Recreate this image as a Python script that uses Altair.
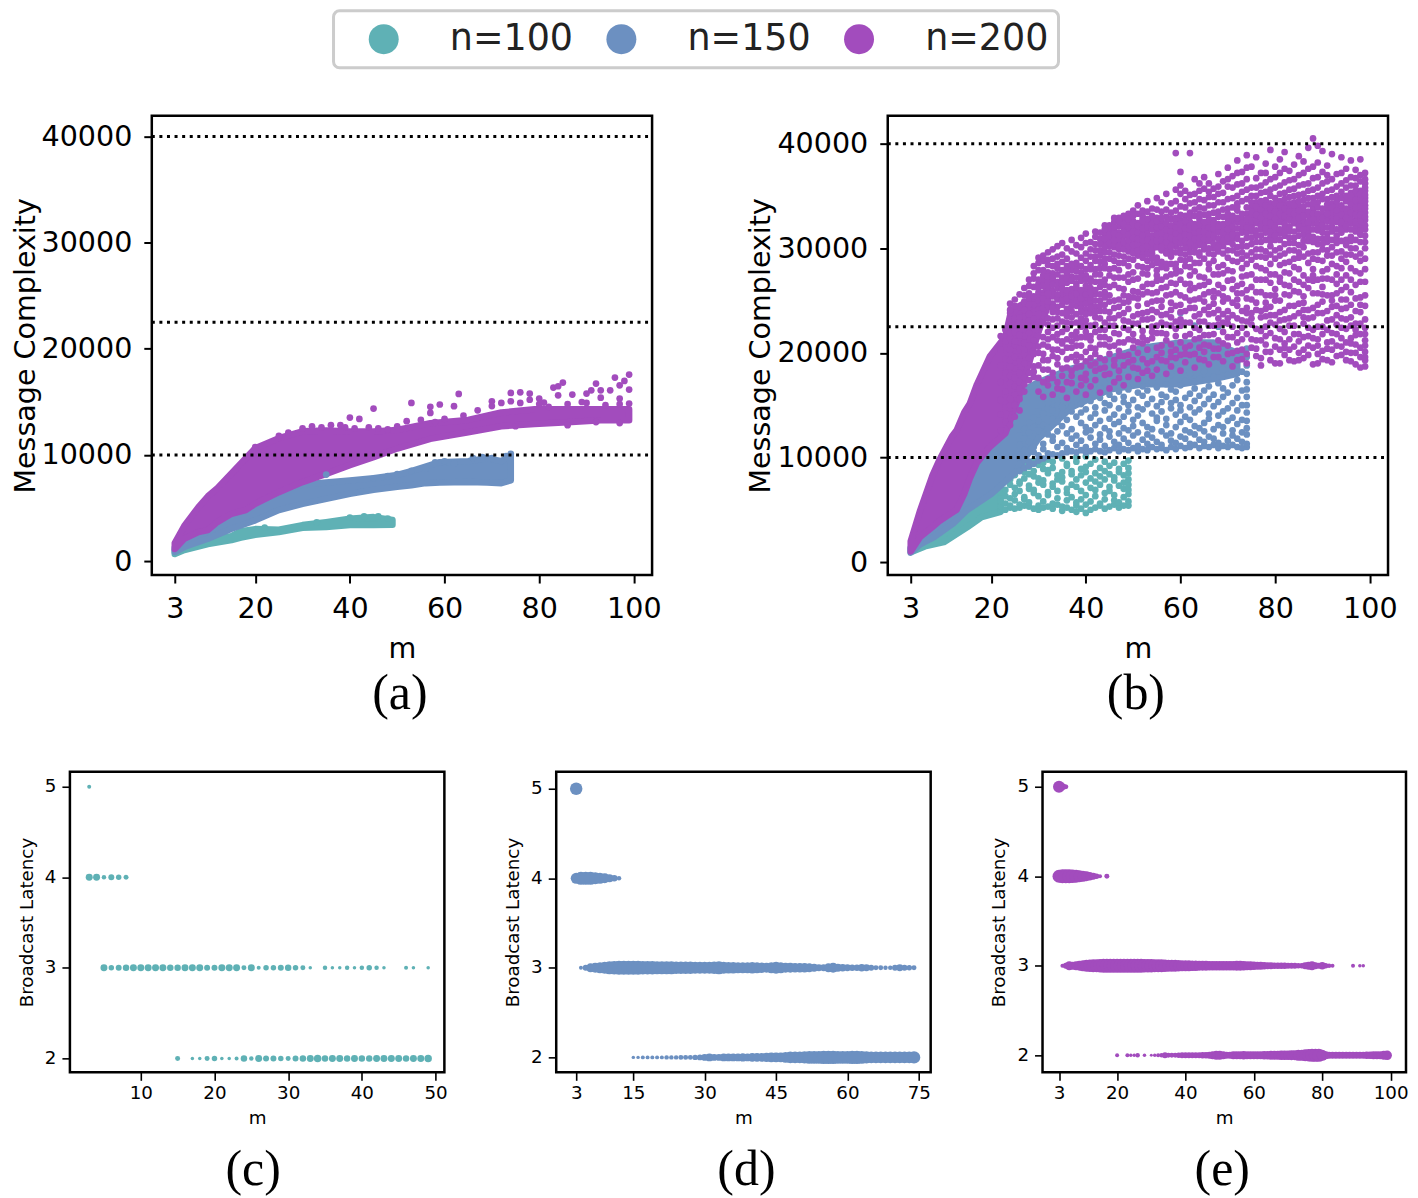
import altair as alt
import pandas as pd

TEAL, BLUE, PURPLE = "#5FB1B5", "#6C90C1", "#A24CBD"
SERIES = ["n=100", "n=150", "n=200"]
HLINES = [10000, 22500, 40000]
FONT = "DejaVu Sans"
SERIF = "Liberation Serif"

A100_M = [3, 5, 10, 15, 17, 20, 25, 30, 35, 40, 45, 49]
A100_LO = [660, 1035, 1600, 1980, 2200, 2480, 2730, 3130, 3200, 3390, 3390, 3420]
A100_HI = [1060, 1500, 2000, 2350, 2820, 3010, 2950, 3390, 3670, 3980, 4140, 3860]
A150_M = [3, 5, 10, 15, 20, 25, 30, 35, 40, 45, 50, 53, 56, 59, 65, 69, 72, 74]
A150_LO = [850, 1320, 2100, 3040, 3830, 4800, 5390, 5860, 6330, 6710, 7000, 7150, 7340, 7400, 7440, 7400, 7340, 7600]
A150_HI = [1300, 2000, 3500, 4800, 5800, 6700, 7200, 7400, 7600, 7810, 8120, 8470, 8910, 9320, 9410, 9690, 9410, 9910]
A200_M = [3, 5, 8, 10, 12, 15, 18, 20, 25, 30, 35, 40, 45, 50, 57, 65, 72, 79, 86, 93, 99]
A200_LO = [1130, 2100, 2730, 2920, 3670, 4450, 4800, 5390, 6490, 7440, 8220, 9040, 9790, 10600, 11510, 12140, 12700, 12920, 13080, 13270, 13270]
A200_HI = [1700, 3300, 5080, 6100, 6870, 8280, 9690, 10630, 11580, 12230, 12300, 12200, 12200, 12360, 12990, 13300, 14000, 14300, 14300, 14300, 14300]
AOUT_M = [40, 42, 45, 53, 52, 57, 57, 59, 62, 63, 70, 74, 74, 76, 78, 80, 81, 82, 83, 84, 84, 85,
          87, 89, 90, 91, 92, 93, 93, 95, 96, 97, 97, 98, 99, 99, 99,
          20, 25, 27, 30, 32, 34, 36, 38, 39, 41, 44, 46, 48, 50, 55, 58, 60, 64, 67, 70, 72, 76, 78, 80, 86, 90, 94, 97, 75, 86, 92, 97]
AOUT_V = [13520, 13390, 14370, 14900, 13180, 14530, 13960, 14750, 14590, 15750, 15060, 15840, 15060,
          15900, 15780, 15310, 14930, 14530, 16350, 16470, 15620, 16820, 15690, 14990, 15780, 16090,
          16720, 16090, 15400, 16090, 17290, 16560, 15310, 16970, 17570, 16160, 14840,
          10730, 11800, 12100, 12500, 12700, 12600, 12800, 12800, 12600, 12500, 12600, 12500, 12400, 12700,
          13300, 13100, 13400, 13700, 14200, 14600, 14900, 14900, 15200, 14800, 14800, 14900, 14700, 14800,
          12700, 12800, 13100, 13000]
BLUE_OUT_M = [35, 45, 48, 50, 53, 56, 58, 60, 62, 66, 68, 70, 73, 74]
BLUE_OUT_V = [8150, 7800, 8000, 8200, 8500, 8700, 9300, 9400, 9200, 9700, 9800, 9700, 9900, 10100]
TEAL_OUT_M = [22, 33, 40, 43, 46, 48]
TEAL_OUT_V = [3150, 3650, 4100, 4200, 4200, 4000]

B100_CORE_M = [3, 6, 10, 15, 18, 22]
B100_CORE_LO = [950, 1500, 1900, 3350, 4300, 4800]
B100_CORE_HI = [1300, 2200, 3500, 5500, 6800, 7600]
B100_COLS = {
    22: [49, 53, 58, 67, 72, 81], 23: [50, 56, 63, 69, 78, 84], 24: [52, 54, 61, 74, 79, 88],
    25: [51, 59, 65, 71, 83, 90], 26: [52, 55, 68, 75, 77, 92], 27: [54, 60, 62, 80, 86, 94],
    28: [53, 57, 70, 73, 84, 91], 29: [51, 66, 69, 82, 87, 97], 30: [50, 54, 63, 76, 80, 93],
    31: [52, 58, 74, 78, 89, 95], 32: [53, 64, 67, 85, 88, 98], 33: [51, 56, 72, 75, 90, 96],
    34: [55, 61, 68, 79, 83], 35: [49, 53, 77, 81, 86, 99], 36: [52, 59, 66, 70, 92, 94],
    37: [50, 62, 74, 84, 87], 38: [48, 54, 57, 72, 79, 96, 100], 39: [51, 60, 68, 83, 89],
    40: [47, 55, 64, 76, 86, 91, 101], 41: [50, 58, 71, 80, 94], 42: [52, 63, 69, 77, 85, 98],
    43: [54, 56, 74, 82, 90], 44: [51, 60, 66, 79, 87, 96], 45: [53, 68, 72, 84, 92],
    46: [55, 59, 64, 78, 81, 95], 47: [52, 57, 73, 86, 89], 48: [54, 62, 70, 76, 83, 94],
    49: [54, 58, 65, 69, 74, 79, 85, 90, 97],
}
B150_CORE_M = [3, 5, 8, 12, 15, 20, 25, 30, 37, 45, 52, 60, 67, 72]
B150_CORE_LO = [900, 1700, 2400, 3700, 5000, 6500, 8500, 11800, 14800, 16500, 17000, 17000, 17500, 18000]
B150_CORE_HI = [1400, 2500, 4000, 6000, 9500, 13000, 16000, 17200, 18500, 19500, 20500, 21000, 21000, 20000]
B150_COLS = {
    26: [87, 94, 103, 112, 121], 27: [90, 98, 107, 118, 127], 28: [92, 96, 115, 124, 133],
    29: [94, 105, 110, 129, 138], 30: [97, 102, 119, 126, 135, 144], 31: [99, 108, 113, 131, 142],
    32: [101, 104, 122, 128, 147, 152], 33: [103, 116, 120, 137, 145], 34: [102, 110, 125, 134, 150, 155],
    35: [104, 114, 130, 141, 148, 158], 36: [105, 109, 123, 136, 153, 160], 37: [106, 118, 127, 144, 149],
    38: [105, 112, 121, 139, 156, 163], 39: [107, 116, 133, 143, 151, 168], 40: [105, 110, 124, 129, 146, 159, 165],
    41: [106, 119, 126, 138, 154, 170], 42: [108, 113, 131, 142, 148, 162], 43: [106, 117, 122, 135, 157, 166],
    44: [105, 111, 128, 145, 152, 172], 45: [107, 120, 125, 137, 150, 160, 176], 46: [109, 115, 132, 141, 156, 168],
    47: [106, 112, 123, 134, 147, 163, 174], 48: [108, 118, 128, 139, 153, 158, 178], 49: [107, 114, 126, 144, 150, 165],
    50: [109, 121, 130, 136, 155, 171, 180], 51: [106, 111, 124, 140, 148, 162, 175], 52: [108, 117, 133, 146, 159, 168],
    53: [107, 113, 122, 129, 151, 164, 181], 54: [110, 119, 127, 142, 156, 172], 55: [108, 115, 135, 138, 149, 167, 177],
    56: [109, 112, 125, 144, 153, 160, 183], 57: [107, 121, 131, 137, 158, 170], 58: [110, 116, 123, 147, 152, 165, 179],
    59: [108, 114, 129, 141, 155, 163, 185], 60: [111, 120, 134, 145, 150, 169, 230, 238], 61: [109, 118, 126, 139, 157, 173],
    62: [110, 113, 124, 136, 148, 161, 180], 63: [112, 122, 130, 143, 154, 166, 226], 64: [109, 117, 128, 146, 159, 175],
    65: [111, 115, 125, 133, 151, 164, 182], 66: [110, 120, 137, 142, 156, 168, 226], 67: [112, 118, 127, 149, 160, 177],
    68: [109, 114, 131, 140, 153, 171, 225], 69: [111, 123, 129, 144, 158, 166, 184], 70: [110, 116, 135, 147, 162, 179],
    71: [112, 121, 126, 138, 152, 169, 186], 72: [110, 118, 132, 145, 157, 174, 192], 73: [109, 115, 124, 136, 150, 164, 182, 198],
    74: [110, 113, 122, 128, 135, 143, 150, 158, 165, 172, 180, 188, 196, 204],
}
B200_CORE_M = [3, 5, 7.6, 9, 11.7, 12.7, 14.3, 15.5, 17, 19.7, 23, 24, 26, 28, 30, 32]
B200_CORE_LO = [1000, 2400, 3350, 3900, 4700, 5000, 6500, 8000, 9500, 11000, 12300, 13500, 16000, 19000, 22000, 24500]
B200_CORE_HI = [1990, 4950, 8290, 9700, 12000, 12600, 14300, 15170, 17000, 19650, 21560, 23570, 24500, 25000, 25500, 26000]
B200_COLS = {
    22: [126, 141, 155, 172, 188, 203, 216], 23: [134, 148, 163, 181, 194, 211, 222],
    24: [131, 147, 150, 171, 178, 193, 214, 219, 238, 247], 25: [139, 160, 168, 185, 207, 211, 226, 233, 251],
    26: [145, 166, 172, 196, 204, 222, 229, 244, 256], 27: [170, 177, 199, 210, 216, 235, 241, 249, 262],
    28: [174, 191, 195, 219, 226, 231, 252, 257, 270], 29: [177, 182, 208, 212, 233, 239, 246, 263, 271, 283],
    30: [163, 188, 200, 221, 229, 241, 250, 258, 266, 279, 291], 31: [158, 184, 193, 215, 236, 243, 248, 255, 269, 274, 288],
    32: [169, 175, 206, 213, 227, 245, 252, 260, 263, 277, 284, 296], 33: [160, 181, 197, 224, 232, 247, 254, 259, 270, 276, 290, 299],
    34: [172, 189, 203, 218, 239, 244, 251, 262, 268, 281, 285, 302], 35: [165, 178, 209, 211, 230, 246, 253, 257, 265, 272, 294, 305],
    36: [157, 186, 194, 223, 235, 242, 249, 256, 267, 275, 283, 300], 37: [171, 183, 205, 217, 228, 240, 250, 258, 261, 273, 279, 297, 308],
    38: [163, 192, 198, 214, 237, 245, 254, 260, 266, 282, 286, 303], 39: [176, 187, 207, 225, 233, 243, 248, 255, 269, 277, 291, 310],
    40: [160, 180, 201, 220, 231, 241, 252, 259, 264, 274, 288, 295, 314], 41: [168, 195, 212, 216, 238, 247, 253, 262, 271, 284, 299, 306],
    42: [174, 190, 204, 227, 234, 244, 256, 268, 280, 292, 304, 316], 43: [162, 185, 208, 222, 240, 250, 263, 275, 287, 298, 309],
    44: [179, 193, 215, 229, 246, 258, 270, 285, 296, 305, 313, 322], 45: [166, 199, 206, 233, 239, 255, 274, 290, 302, 308, 318],
    46: [172, 188, 219, 226, 243, 265, 281, 294, 301, 311, 317, 325], 47: [183, 202, 210, 236, 251, 272, 279, 299, 304, 309, 315, 321, 329],
    48: [169, 197, 224, 231, 248, 261, 286, 292, 303, 312, 320, 327], 49: [177, 191, 213, 242, 254, 268, 283, 297, 305, 310, 316, 323, 333],
    50: [186, 205, 218, 235, 259, 277, 289, 300, 307, 314, 319, 326, 336], 51: [175, 200, 228, 245, 252, 271, 293, 302, 306, 311, 318, 324, 341],
    52: [181, 209, 221, 238, 263, 282, 296, 303, 309, 315, 322, 328, 331], 53: [190, 203, 232, 247, 266, 275, 288, 299, 305, 313, 317, 325, 345],
    54: [178, 214, 225, 241, 257, 284, 295, 301, 308, 312, 320, 327, 338], 55: [184, 196, 219, 250, 269, 279, 291, 304, 310, 316, 323, 329, 348],
    56: [193, 207, 236, 244, 262, 287, 298, 306, 311, 318, 326, 335], 57: [180, 212, 227, 255, 273, 281, 300, 303, 309, 314, 321, 330, 352],
    58: [187, 201, 234, 248, 267, 292, 297, 307, 313, 319, 328, 343], 59: [195, 216, 223, 258, 276, 285, 302, 305, 312, 317, 324, 336, 356, 391],
    60: [183, 210, 239, 246, 270, 289, 299, 308, 315, 320, 327, 340, 360, 373], 61: [191, 205, 229, 253, 283, 294, 304, 310, 316, 322, 331, 347],
    62: [198, 218, 243, 260, 274, 290, 301, 309, 314, 325, 334, 351, 391], 63: [186, 213, 235, 251, 278, 296, 306, 311, 318, 323, 337, 344, 366],
    64: [194, 222, 230, 264, 286, 293, 303, 313, 319, 328, 339, 355], 65: [201, 208, 241, 256, 272, 299, 305, 312, 321, 332, 346, 368],
    66: [189, 217, 237, 268, 280, 295, 307, 316, 324, 333, 349, 362], 67: [196, 226, 247, 259, 288, 300, 310, 314, 327, 341, 357],
    68: [204, 212, 233, 265, 275, 297, 304, 318, 323, 335, 352, 371], 69: [192, 220, 249, 254, 284, 302, 311, 320, 330, 344, 364],
    70: [199, 228, 240, 269, 291, 306, 315, 322, 329, 338, 359, 377], 71: [187, 215, 236, 261, 278, 298, 309, 317, 326, 348, 369],
    72: [202, 210, 245, 257, 287, 301, 313, 325, 336, 343, 361, 384], 73: [194, 224, 231, 266, 281, 296, 307, 319, 328, 354, 373],
    74: [190, 218, 243, 252, 274, 293, 310, 323, 333, 347, 366, 389], 75: [205, 227, 238, 263, 289, 304, 316, 321, 331, 339, 350, 378],
    76: [197, 212, 248, 258, 283, 299, 312, 324, 328, 336, 344, 358, 387], 77: [188, 221, 234, 270, 292, 306, 318, 325, 334, 341, 353, 372],
    78: [201, 216, 242, 255, 279, 297, 315, 322, 329, 337, 346, 363, 381], 79: [193, 229, 236, 267, 285, 302, 311, 320, 327, 335, 343, 356, 394],
    80: [206, 214, 250, 261, 290, 308, 317, 323, 331, 339, 348, 368], 81: [190, 223, 239, 272, 284, 300, 314, 326, 330, 336, 345, 360, 385],
    82: [198, 209, 232, 256, 277, 295, 312, 319, 328, 334, 342, 353, 376, 392], 83: [203, 226, 245, 264, 287, 305, 316, 321, 332, 338, 349, 365],
    84: [192, 218, 235, 259, 282, 298, 310, 324, 329, 337, 344, 357, 380], 85: [200, 211, 247, 268, 291, 303, 318, 325, 333, 340, 351, 370, 388],
    86: [195, 228, 241, 254, 274, 301, 313, 322, 327, 335, 346, 361, 383], 87: [207, 216, 233, 262, 286, 307, 315, 320, 331, 342, 355, 376, 396],
    88: [189, 222, 243, 269, 280, 296, 311, 324, 336, 339, 348, 367, 405], 89: [199, 213, 238, 257, 289, 304, 317, 323, 329, 344, 358, 382, 398],
    90: [194, 225, 249, 263, 278, 299, 309, 319, 326, 333, 352, 373, 393], 91: [204, 210, 231, 271, 293, 306, 314, 328, 338, 347, 364, 379],
    92: [191, 219, 244, 255, 285, 301, 316, 321, 330, 335, 343, 356, 390], 93: [197, 227, 236, 266, 283, 305, 312, 325, 332, 341, 350, 371],
    94: [206, 214, 242, 260, 290, 297, 315, 322, 329, 336, 354, 362, 387], 95: [193, 223, 251, 274, 287, 303, 318, 326, 333, 345, 358, 376],
    96: [200, 209, 234, 258, 281, 300, 311, 324, 331, 338, 347, 353, 368, 384], 97: [189, 217, 228, 265, 292, 308, 320, 327, 335, 342, 350, 360, 375],
    98: [196, 205, 239, 253, 276, 295, 313, 322, 329, 337, 343, 355, 364, 385], 99: [187, 193, 201, 212, 224, 245, 268, 290, 306, 318, 327, 334, 341, 348, 355, 362, 372],
}
# second pass over the densest parts of the purple cloud (hundreds)
B200_DENSE = {
    24: [156, 187, 203, 226, 241], 25: [150, 176, 196, 220, 245], 26: [156, 181, 192, 217, 234],
    27: [163, 190, 203, 226, 255], 28: [181, 207, 237, 246, 264], 29: [187, 199, 226, 254, 276],
    30: [176, 206, 216, 237, 262, 270, 286], 31: [172, 199, 208, 229, 252, 264, 279, 293],
    32: [184, 193, 220, 233, 249, 257, 268, 273, 289], 33: [176, 203, 215, 239, 243, 265, 272, 283],
    34: [166, 195, 212, 226, 233, 256, 275, 292], 35: [185, 201, 220, 238, 250, 261, 268, 279, 287],
    36: [172, 205, 213, 229, 238, 252, 260, 271, 279, 290], 37: [178, 196, 211, 234, 245, 254, 269, 285],
    38: [186, 207, 220, 229, 250, 257, 263, 272, 278, 295], 39: [169, 196, 215, 229, 239, 252, 260, 273, 283, 301],
    40: [174, 192, 215, 226, 237, 247, 256, 270, 280, 305], 41: [188, 205, 226, 243, 250, 258, 268, 280, 292],
    42: [183, 199, 220, 239, 250, 260, 275, 288, 298, 311], 43: [195, 215, 233, 245, 256, 268, 281, 293, 304, 315],
    44: [186, 208, 222, 240, 253, 265, 281, 290, 301, 309, 318], 45: [180, 213, 226, 249, 263, 280, 296, 305, 313, 322],
    46: [193, 207, 233, 250, 272, 288, 304, 308, 314, 320, 329], 47: [176, 197, 218, 244, 262, 286, 293, 302, 312, 326],
    48: [188, 210, 238, 255, 272, 299, 306, 316, 323, 331], 49: [198, 222, 230, 249, 275, 290, 302, 308, 313, 320, 328],
    50: [193, 212, 228, 253, 270, 295, 303, 310, 316, 324, 331], 51: [185, 210, 237, 258, 283, 298, 304, 309, 315, 322, 333],
    52: [194, 215, 232, 256, 276, 291, 300, 308, 312, 319, 326, 336], 53: [183, 212, 239, 258, 281, 294, 302, 308, 320, 328, 335],
    54: [192, 220, 233, 249, 266, 290, 298, 305, 318, 323, 331], 55: [205, 226, 239, 258, 274, 286, 301, 307, 313, 320, 326, 337],
    56: [200, 219, 229, 250, 270, 282, 301, 308, 314, 321, 329, 344], 57: [192, 218, 237, 263, 285, 295, 306, 311, 318, 324, 337],
    58: [196, 208, 226, 241, 256, 275, 285, 302, 310, 316, 322, 334], 59: [203, 230, 245, 266, 281, 296, 308, 314, 320, 329, 345],
    60: [198, 226, 232, 255, 278, 295, 305, 311, 318, 323, 332, 352], 61: [199, 216, 240, 266, 288, 300, 307, 313, 319, 326, 339, 355],
    62: [207, 229, 250, 266, 282, 296, 305, 312, 318, 322, 330, 343], 63: [199, 224, 243, 262, 286, 301, 309, 315, 320, 331, 352],
    64: [205, 214, 237, 252, 273, 296, 306, 310, 316, 324, 333, 347, 362], 65: [193, 217, 230, 249, 265, 290, 302, 309, 316, 325, 338, 357],
    66: [207, 226, 244, 258, 285, 300, 309, 313, 320, 328, 341, 354], 67: [204, 218, 238, 253, 275, 294, 304, 312, 319, 324, 334, 349],
    68: [196, 227, 241, 257, 282, 301, 309, 315, 321, 330, 344, 359], 69: [209, 229, 237, 262, 276, 295, 307, 315, 323, 337, 353],
    70: [207, 215, 233, 252, 279, 298, 310, 318, 325, 333, 347, 366], 71: [200, 225, 248, 270, 288, 304, 313, 321, 331, 339, 358],
    72: [193, 219, 233, 251, 264, 295, 309, 319, 329, 340, 350, 372], 73: [203, 213, 240, 257, 273, 290, 302, 315, 324, 333, 345, 362],
    74: [199, 230, 238, 260, 285, 302, 315, 320, 328, 339, 356, 377], 75: [213, 233, 251, 275, 296, 310, 319, 326, 335, 344, 358],
    76: [204, 223, 241, 270, 292, 306, 317, 327, 332, 340, 350, 367], 77: [195, 212, 240, 258, 281, 299, 312, 321, 329, 337, 345, 360],
    78: [208, 225, 235, 248, 270, 291, 308, 319, 325, 333, 341, 354, 372], 79: [201, 219, 244, 255, 275, 294, 307, 316, 324, 331, 339, 350, 366],
    80: [190, 227, 236, 255, 275, 298, 312, 320, 328, 335, 343, 358, 378], 81: [203, 213, 231, 250, 268, 293, 308, 318, 325, 333, 341, 352, 372],
    82: [205, 220, 241, 265, 286, 304, 315, 323, 331, 338, 347, 363], 83: [193, 213, 233, 255, 276, 298, 310, 319, 327, 335, 343, 356, 374],
    84: [206, 226, 245, 270, 290, 305, 316, 326, 333, 341, 350, 366], 85: [193, 218, 238, 258, 280, 296, 312, 321, 329, 336, 345, 360],
    86: [203, 215, 234, 248, 265, 292, 307, 318, 331, 340, 352, 372], 87: [198, 224, 241, 270, 295, 311, 325, 335, 348, 362],
    88: [205, 214, 234, 257, 274, 290, 306, 318, 328, 333, 343, 356, 378], 89: [190, 207, 225, 246, 270, 296, 309, 319, 333, 339, 350, 368],
    90: [202, 218, 238, 256, 271, 288, 304, 315, 322, 329, 338, 347, 362], 91: [193, 222, 240, 255, 280, 298, 310, 320, 326, 333, 342, 355, 370],
    92: [203, 211, 232, 250, 270, 293, 308, 317, 325, 339, 349, 366], 93: [207, 218, 245, 257, 275, 296, 308, 318, 328, 336, 345, 359],
    94: [198, 224, 233, 251, 270, 281, 307, 318, 325, 332, 341, 348, 372], 95: [201, 210, 232, 243, 263, 294, 308, 321, 329, 338, 350, 365],
    96: [192, 214, 226, 246, 270, 294, 307, 318, 327, 334, 342, 350, 360], 97: [200, 208, 222, 240, 252, 278, 300, 316, 325, 332, 339, 346, 355, 367],
    98: [186, 218, 228, 246, 268, 288, 306, 317, 326, 332, 340, 347, 352, 370], 99: [196, 207, 218, 232, 255, 280, 300, 312, 322, 330, 338, 345, 351, 358, 366],
}

C_ROWS = {
    5: ([3], [4]),
    4: ([3, 4, 5, 6, 7, 8], [7, 7, 4.5, 6, 5.5, 5]),
    3: ([5, 6, 7, 8, 9, 10, 11, 12, 13, 14, 15, 16, 17, 18, 19, 20, 21, 22, 23, 24, 25, 26, 27, 28, 29, 30, 31, 32, 33, 35, 36, 37, 38, 39, 40, 41, 42, 43, 46, 47, 49],
        [7, 5.5, 6, 6.5, 7, 7, 7, 7, 7, 6.5, 6.5, 7, 7, 7, 6, 6, 7, 7, 7, 5, 7, 4, 5.5, 5.5, 6, 6.5, 5.5, 5, 3.5, 4.5, 3.5, 3.5, 4.5, 3.5, 4.5, 5.5, 4.5, 3.5, 4, 3.5, 3.5]),
    2: ([15, 17, 18, 19, 20, 21, 22, 23, 24, 25, 26, 27, 28, 29, 30, 31, 32, 33, 34, 35, 36, 37, 38, 39, 40, 41, 42, 43, 44, 45, 46, 47, 48, 49],
        [5, 3.5, 3.5, 5, 5.5, 3.5, 3.5, 4, 6.5, 4.5, 7, 6, 6, 5.5, 5, 6, 6.5, 7, 7.5, 6.5, 7, 7, 6.5, 7, 6.5, 6.5, 7, 7, 7, 7, 6.5, 7, 7, 7.5]),
}
D_ROWS = {
    5: ([3], [12.5]),
    4: ([3, 4, 5, 6, 7, 8, 9, 10, 11, 12], [11, 13, 13, 13, 12, 11, 10, 8, 6.5, 4.5]),
    3: (list(range(4, 75)),
        [4, 6, 9, 10, 11, 12, 13, 13.5, 14, 14, 14, 14, 14, 13.5, 13.5, 13.5, 13, 13, 13, 13, 12.5, 12.5, 12.5, 12.5, 12, 12, 12, 12, 12.5, 13, 12, 11.5, 11.5, 11, 11, 11, 11.5, 11, 10.5, 10, 11, 12, 11, 10, 10, 9.5, 9.5, 9.5, 9, 8, 7, 7, 9, 10, 8, 7.5, 7, 6.5, 6.5, 7.5, 7, 6, 5, 5, 4.5, 4.5, 6, 7, 6, 5.5, 5]),
    2: (list(range(15, 75)),
        [3.5, 3.5, 4, 4, 4, 4, 4, 4.5, 4.5, 4.5, 5, 5, 5, 5.5, 6, 7, 8, 7, 7, 8, 8, 8, 8, 8.5, 8, 9, 9, 9, 9.5, 10, 10, 10, 11, 12, 12, 12, 12.5, 13, 13, 13, 13.5, 13.5, 13.5, 13, 13, 13, 13.5, 13.5, 13, 12.5, 12, 12, 12, 12, 12, 12, 12, 12, 12, 12.5]),
}
E_ROWS = {
    5: ([3, 4, 5], [12, 7, 5]),
    4: ([3, 4, 5, 6, 7, 8, 9, 10, 11, 12, 13, 14, 15, 17], [13, 14, 14, 14, 13.5, 13, 12, 11, 10, 8.5, 7, 5.5, 4, 5]),
    3: (list(range(4, 84)) + [89, 91, 92],
        [4, 6, 9, 8, 9, 10, 11, 12, 12.5, 13, 13, 13.5, 14, 14, 14, 14, 14, 14, 14, 14, 14, 14, 14, 14, 13.5, 13.5, 13.5, 13, 13, 13, 12.5, 12, 12, 12, 11.5, 11, 11, 11, 10.5, 10.5, 10, 10, 10, 9.5, 9.5, 9.5, 9.5, 9.5, 9.5, 9.5, 9.5, 10, 10, 9.5, 9, 9, 8.5, 8, 8, 7.5, 7, 7, 6.5, 6.5, 6.5, 6.5, 6, 6, 6, 5.5, 5.5, 7, 8, 9, 7, 6, 7.5, 5.5, 4.5, 4, 4, 3.5, 3.5]),
    2: ([20, 23, 24, 25, 26, 28, 30] + list(range(31, 100)),
        [4, 4, 3.5, 3.5, 4.5, 3.5, 3, 3.5, 4, 4.5, 6, 5, 5, 5, 5.5, 6, 6, 6, 6, 6, 6, 6.5, 6.5, 7, 8, 9, 9, 8, 7, 7, 8, 8, 8, 8.5, 8, 8, 8, 8, 8, 8.5, 8.5, 9, 9, 9, 9.5, 9.5, 9.5, 10, 10, 11, 11, 12, 12.5, 13, 13, 13, 11, 8, 7, 7, 7, 7, 7, 7, 7, 7, 7, 7, 7, 7.5, 7.5, 8, 8, 8, 9, 9.5]),
}


def explode(cols):
    return pd.DataFrame([{"m": m, "v": v * 100} for m, vs in cols.items() for v in vs])


def core(ms, lo, hi):
    return pd.DataFrame({"m": ms, "lo": lo, "hi": hi})


def big_axis(title, values, tp):
    return alt.Axis(title=title, values=values, format="d", grid=False, domain=False, tickColor="black",
                    tickWidth=2, tickSize=8, labelFont=FONT, labelFontSize=28.6, labelColor="black",
                    labelPadding=12, titleFont=FONT, titleFontSize=28.6, titleFontWeight="normal",
                    titleColor="black", titlePadding=tp, labelOverlap=False, labelFlush=False)


def small_axis(title, values, lp):
    return alt.Axis(title=title, values=values, format="d", grid=False, domain=False, tickColor="black",
                    tickWidth=1.6, tickSize=8, labelFont=FONT, labelFontSize=18.3, labelColor="black",
                    labelPadding=lp, titleFont=FONT, titleFontSize=18.3, titleFontWeight="normal",
                    titleColor="black", titlePadding=8, labelOverlap=False, labelFlush=False)


FRAME = alt.ViewBackground(stroke="black", strokeWidth=2.5)


def caption(text, dx, offset):
    return alt.TitleParams(text=text, orient="bottom", font=SERIF, fontSize=50, fontWeight="normal",
                           color="black", dx=dx, offset=offset)


def band(df, color, xs, ys):
    return alt.Chart(df).mark_area(color=color, stroke=color, strokeWidth=6.5, strokeJoin="round", opacity=1).encode(
        x=alt.X("m:Q", scale=xs, axis=big_axis("m", [3, 20, 40, 60, 80, 100], 11)),
        y=alt.Y("lo:Q", scale=ys, axis=big_axis("Message Complexity", [0, 10000, 20000, 30000, 40000], 1)),
        y2="hi:Q",
    )


def dots(df, color, xs, ys):
    return alt.Chart(df).mark_point(filled=True, size=45, color=color, opacity=1).encode(
        x=alt.X("m:Q", scale=xs), y=alt.Y("v:Q", scale=ys))


def hl(xs, ys):
    d = pd.DataFrame({"y": HLINES, "a": [-1.85] * 3, "b": [103.0] * 3})
    return alt.Chart(d).mark_rule(color="black", strokeWidth=3, strokeDash=[3, 4.6]).encode(
        y=alt.Y("y:Q", scale=ys), x=alt.X("a:Q", scale=xs), x2="b:Q")


xs_top = alt.Scale(domain=[-1.85, 103.85], nice=False, zero=False)
ya = alt.Scale(domain=[-1320, 41970], nice=False, zero=False)
yb = alt.Scale(domain=[-1241, 42673], nice=False, zero=False)

aout = pd.DataFrame({
    "m": TEAL_OUT_M + BLUE_OUT_M + AOUT_M,
    "v": TEAL_OUT_V + BLUE_OUT_V + AOUT_V,
    "n": ["n=100"] * len(TEAL_OUT_M) + ["n=150"] * len(BLUE_OUT_M) + ["n=200"] * len(AOUT_M),
})
legend_pts = alt.Chart(aout).mark_point(filled=True, size=45, opacity=1).encode(
    x=alt.X("m:Q", scale=xs_top),
    y=alt.Y("v:Q", scale=ya),
    color=alt.Color("n:N", scale=alt.Scale(domain=SERIES, range=[TEAL, BLUE, PURPLE]), legend=alt.Legend(
        title=None, orient="none", legendX=419, legendY=-105, direction="horizontal", columns=3,
        symbolType="circle", symbolSize=900, symbolOpacity=1, labelFont=FONT, labelFontSize=36.5,
        labelColor="#222222", labelOffset=48, columnPadding=8, padding=10, symbolOffset=22,
        fillColor="white", strokeColor="#cccccc", cornerRadius=6)),
)

panel_a = alt.layer(
    band(core(A100_M, A100_LO, A100_HI), TEAL, xs_top, ya),
    band(core(A150_M, A150_LO, A150_HI), BLUE, xs_top, ya),
    band(core(A200_M, A200_LO, A200_HI), PURPLE, xs_top, ya),
    legend_pts,
    hl(xs_top, ya),
).properties(width=501, height=460, view=FRAME, title=caption("(a)", -2, 6))

panel_b = alt.layer(
    band(core(B100_CORE_M, B100_CORE_LO, B100_CORE_HI), TEAL, xs_top, yb),
    dots(explode(B100_COLS), TEAL, xs_top, yb),
    band(core(B150_CORE_M, B150_CORE_LO, B150_CORE_HI), BLUE, xs_top, yb),
    dots(explode(B150_COLS), BLUE, xs_top, yb),
    band(core(B200_CORE_M, B200_CORE_LO, B200_CORE_HI), PURPLE, xs_top, yb),
    dots(explode(B200_COLS), PURPLE, xs_top, yb),
    dots(explode(B200_DENSE), PURPLE, xs_top, yb),
    hl(xs_top, yb),
).properties(width=501, height=460, view=FRAME, title=caption("(b)", -2, 6))


def bubbles(rows, color, xdom, ydom, xticks, cap, dx, w=375):
    recs = [{"m": m, "lat": lat, "s": d * d} for lat, (ms, ds) in rows.items() for m, d in zip(ms, ds)]
    return alt.Chart(pd.DataFrame(recs)).mark_point(filled=True, color=color, opacity=1).encode(
        x=alt.X("m:Q", scale=alt.Scale(domain=xdom, nice=False, zero=False), axis=small_axis("m", xticks, 4)),
        y=alt.Y("lat:Q", scale=alt.Scale(domain=ydom, nice=False, zero=False), axis=small_axis("Broadcast Latency", [2, 3, 4, 5], 6)),
        size=alt.Size("s:Q", scale=None),
    ).properties(width=w, height=301, view=FRAME, title=caption(cap, dx, 18))


panel_c = bubbles(C_ROWS, TEAL, [0.38, 51.2], [1.846, 5.165], [10, 20, 30, 40, 50], "(c)", -4)
panel_d = bubbles(D_ROWS, BLUE, [-1.2, 77.5], [1.833, 5.19], [3, 15, 30, 45, 60, 75], "(d)", 3)
panel_e = bubbles(E_ROWS, PURPLE, [-1.82, 104.5], [1.81, 5.167], [3, 20, 40, 60, 80, 100], "(e)", -2, w=364)


def spacer(w, h):
    return alt.Chart(alt.Data(values=[{"s": 0}])).mark_point(opacity=0, size=1).encode(
        x=alt.value(3), y=alt.value(3)).properties(width=w, height=h, view=alt.ViewBackground(stroke="transparent"))


row1 = alt.hconcat(spacer(1, 460), panel_a, panel_b, spacing=236, bounds="flush")
row2 = alt.hconcat(spacer(43, 301), panel_c, panel_d, panel_e, spacing=112, bounds="flush")

chart = alt.vconcat(row1, row2, spacing=49).properties(
    padding={"left": -94, "top": 0, "right": 0, "bottom": 0}, background="white"
).configure_legend(strokeWidth=3)

chart.save("out.html", embed_options={"renderer": "svg", "actions": False})
